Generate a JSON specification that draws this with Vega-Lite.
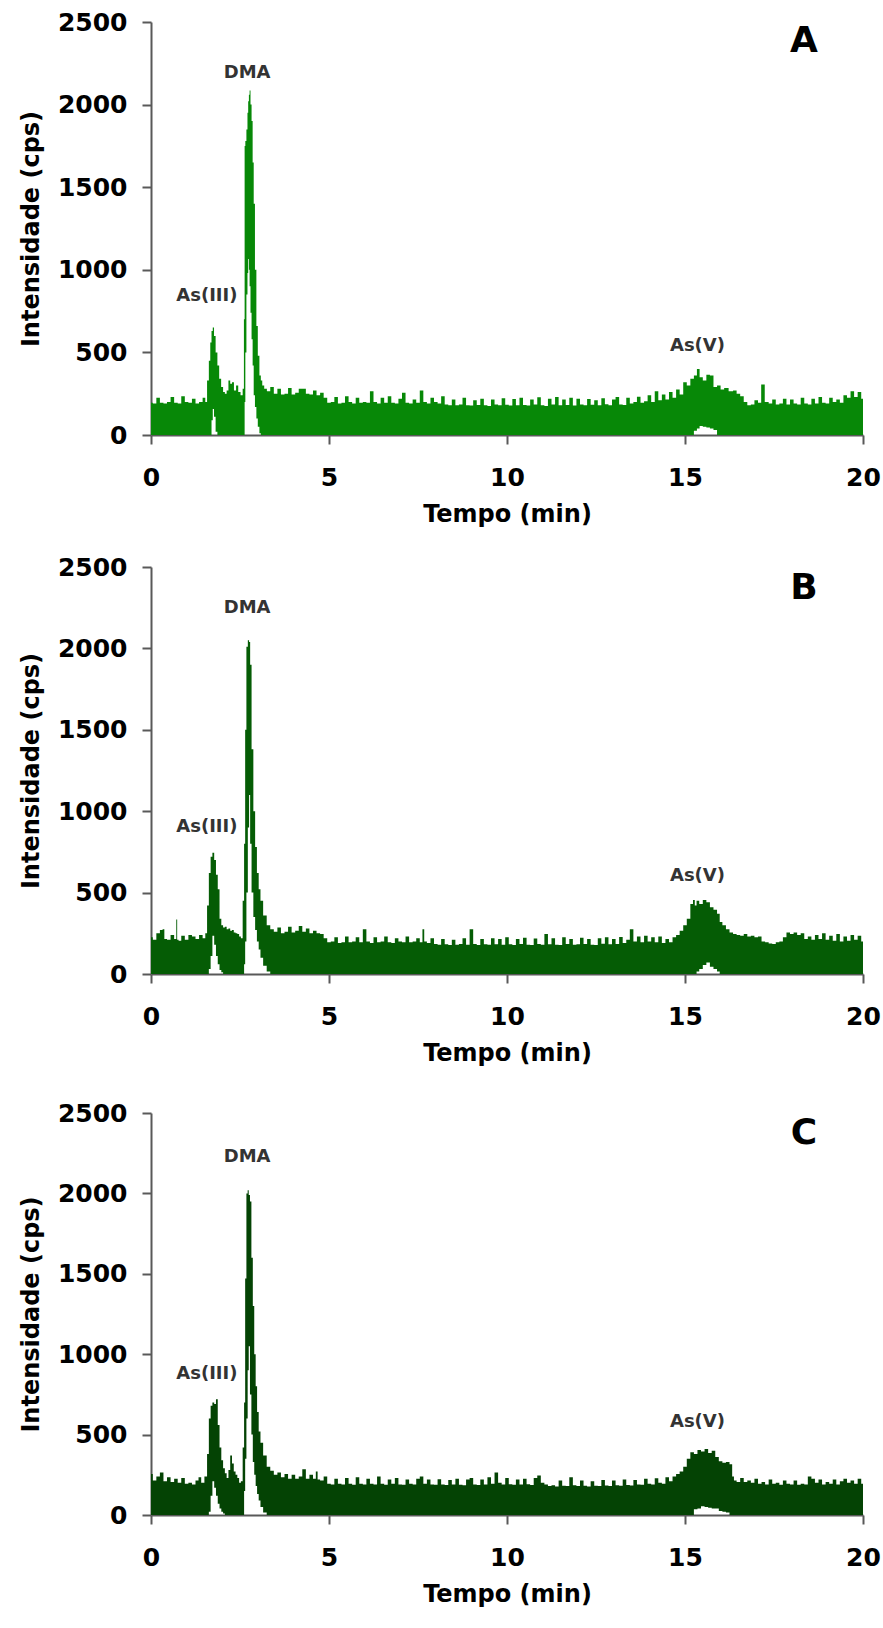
{
"$schema": "https://vega.github.io/schema/vega-lite/v6.json",
"background": "white",
"padding": {"top": 10, "left": 19, "right": 5, "bottom": 5},
"spacing": 132,
"bounds": "flush",
"datasets": {
"A": [
{"t":0,"h":195,"l":0},{"t":0.1,"h":190,"l":0},{"t":0.2,"h":225,"l":0},{"t":0.3,"h":195,"l":0},{"t":0.4,"h":190,"l":0},{"t":0.5,"h":200,"l":0},{"t":0.6,"h":230,"l":0},{"t":0.7,"h":195,"l":0},{"t":0.8,"h":190,"l":0},{"t":0.9,"h":235,"l":0},
{"t":1.0,"h":200,"l":0},{"t":1.1,"h":195,"l":0},{"t":1.2,"h":220,"l":0},{"t":1.3,"h":190,"l":0},{"t":1.4,"h":200,"l":0},{"t":1.5,"h":225,"l":0},{"t":1.55,"h":200,"l":0},{"t":1.6,"h":330,"l":0},{"t":1.65,"h":450,"l":0},{"t":1.68,"h":560,"l":0},
{"t":1.72,"h":630,"l":90},{"t":1.75,"h":650,"l":157},{"t":1.79,"h":600,"l":110},{"t":1.84,"h":500,"l":20},{"t":1.89,"h":420,"l":0},{"t":1.94,"h":340,"l":0},{"t":2.0,"h":290,"l":0},{"t":2.05,"h":260,"l":0},{"t":2.1,"h":250,"l":0},{"t":2.15,"h":270,"l":0},
{"t":2.2,"h":330,"l":0},{"t":2.25,"h":310,"l":0},{"t":2.3,"h":320,"l":0},{"t":2.36,"h":270,"l":0},{"t":2.42,"h":300,"l":0},{"t":2.48,"h":260,"l":0},{"t":2.55,"h":240,"l":0},{"t":2.6,"h":280,"l":0},{"t":2.62,"h":700,"l":0},{"t":2.64,"h":1750,"l":200},
{"t":2.66,"h":1780,"l":500},{"t":2.7,"h":1850,"l":850},{"t":2.72,"h":1950,"l":980},{"t":2.74,"h":2020,"l":1065},{"t":2.76,"h":2060,"l":1000},{"t":2.78,"h":2085,"l":900},{"t":2.81,"h":2000,"l":740},{"t":2.84,"h":1900,"l":580},{"t":2.87,"h":1650,"l":420},{"t":2.9,"h":1400,"l":240},
{"t":2.94,"h":1000,"l":170},{"t":2.98,"h":660,"l":100},{"t":3.02,"h":480,"l":50},{"t":3.07,"h":360,"l":10},{"t":3.1,"h":330,"l":0},{"t":3.15,"h":300,"l":0},{"t":3.21,"h":280,"l":0},{"t":3.3,"h":265,"l":0},{"t":3.4,"h":290,"l":0},{"t":3.5,"h":250,"l":0},
{"t":3.6,"h":280,"l":0},{"t":3.7,"h":245,"l":0},{"t":3.8,"h":250,"l":0},{"t":3.9,"h":285,"l":0},{"t":4.0,"h":245,"l":0},{"t":4.1,"h":255,"l":0},{"t":4.2,"h":280,"l":0},{"t":4.3,"h":280,"l":0},{"t":4.4,"h":250,"l":0},{"t":4.5,"h":245,"l":0},
{"t":4.6,"h":270,"l":0},{"t":4.7,"h":240,"l":0},{"t":4.8,"h":255,"l":0},{"t":4.9,"h":225,"l":0},{"t":5.0,"h":195,"l":0},{"t":5.1,"h":200,"l":0},{"t":5.2,"h":230,"l":0},{"t":5.3,"h":190,"l":0},{"t":5.4,"h":195,"l":0},{"t":5.5,"h":235,"l":0},
{"t":5.6,"h":200,"l":0},{"t":5.7,"h":190,"l":0},{"t":5.8,"h":225,"l":0},{"t":5.9,"h":195,"l":0},{"t":6.0,"h":200,"l":0},{"t":6.1,"h":195,"l":0},{"t":6.2,"h":265,"l":0},{"t":6.3,"h":200,"l":0},{"t":6.4,"h":190,"l":0},{"t":6.5,"h":225,"l":0},
{"t":6.6,"h":195,"l":0},{"t":6.7,"h":235,"l":0},{"t":6.8,"h":195,"l":0},{"t":6.9,"h":190,"l":0},{"t":7.0,"h":220,"l":0},{"t":7.1,"h":255,"l":0},{"t":7.2,"h":195,"l":0},{"t":7.3,"h":190,"l":0},{"t":7.4,"h":215,"l":0},{"t":7.5,"h":195,"l":0},
{"t":7.6,"h":270,"l":0},{"t":7.7,"h":200,"l":0},{"t":7.8,"h":190,"l":0},{"t":7.9,"h":225,"l":0},{"t":8.0,"h":200,"l":0},{"t":8.1,"h":190,"l":0},{"t":8.2,"h":235,"l":0},{"t":8.3,"h":185,"l":0},{"t":8.4,"h":180,"l":0},{"t":8.5,"h":215,"l":0},
{"t":8.6,"h":180,"l":0},{"t":8.7,"h":185,"l":0},{"t":8.8,"h":225,"l":0},{"t":8.9,"h":180,"l":0},{"t":9.0,"h":178,"l":0},{"t":9.1,"h":210,"l":0},{"t":9.2,"h":182,"l":0},{"t":9.3,"h":220,"l":0},{"t":9.4,"h":180,"l":0},{"t":9.5,"h":176,"l":0},
{"t":9.6,"h":215,"l":0},{"t":9.7,"h":185,"l":0},{"t":9.8,"h":180,"l":0},{"t":9.9,"h":222,"l":0},{"t":10.0,"h":183,"l":0},{"t":10.1,"h":178,"l":0},{"t":10.2,"h":218,"l":0},{"t":10.3,"h":180,"l":0},{"t":10.4,"h":225,"l":0},{"t":10.5,"h":182,"l":0},
{"t":10.6,"h":178,"l":0},{"t":10.7,"h":215,"l":0},{"t":10.8,"h":185,"l":0},{"t":10.9,"h":228,"l":0},{"t":11.0,"h":180,"l":0},{"t":11.1,"h":176,"l":0},{"t":11.2,"h":220,"l":0},{"t":11.3,"h":184,"l":0},{"t":11.4,"h":230,"l":0},{"t":11.5,"h":180,"l":0},
{"t":11.6,"h":215,"l":0},{"t":11.7,"h":182,"l":0},{"t":11.8,"h":225,"l":0},{"t":11.9,"h":178,"l":0},{"t":12.0,"h":220,"l":0},{"t":12.1,"h":185,"l":0},{"t":12.2,"h":180,"l":0},{"t":12.3,"h":218,"l":0},{"t":12.4,"h":183,"l":0},{"t":12.5,"h":210,"l":0},
{"t":12.6,"h":180,"l":0},{"t":12.7,"h":222,"l":0},{"t":12.8,"h":186,"l":0},{"t":12.9,"h":180,"l":0},{"t":13.0,"h":215,"l":0},{"t":13.1,"h":230,"l":0},{"t":13.2,"h":185,"l":0},{"t":13.3,"h":182,"l":0},{"t":13.4,"h":225,"l":0},{"t":13.5,"h":190,"l":0},
{"t":13.6,"h":200,"l":0},{"t":13.7,"h":232,"l":0},{"t":13.8,"h":195,"l":0},{"t":13.9,"h":205,"l":0},{"t":14.0,"h":240,"l":0},{"t":14.1,"h":200,"l":0},{"t":14.2,"h":265,"l":0},{"t":14.3,"h":210,"l":0},{"t":14.4,"h":245,"l":0},{"t":14.5,"h":215,"l":0},
{"t":14.6,"h":260,"l":0},{"t":14.7,"h":225,"l":0},{"t":14.8,"h":275,"l":0},{"t":14.9,"h":245,"l":0},{"t":15.0,"h":320,"l":0},{"t":15.1,"h":300,"l":0},{"t":15.2,"h":340,"l":0},{"t":15.3,"h":360,"l":25},{"t":15.37,"h":400,"l":40},{"t":15.45,"h":350,"l":55},
{"t":15.55,"h":330,"l":50},{"t":15.65,"h":365,"l":45},{"t":15.75,"h":360,"l":40},{"t":15.85,"h":290,"l":30},{"t":15.95,"h":300,"l":0},{"t":16.05,"h":275,"l":0},{"t":16.15,"h":285,"l":0},{"t":16.3,"h":265,"l":0},{"t":16.4,"h":270,"l":0},{"t":16.5,"h":250,"l":0},
{"t":16.6,"h":235,"l":0},{"t":16.7,"h":200,"l":0},{"t":16.8,"h":180,"l":0},{"t":16.9,"h":185,"l":0},{"t":17.0,"h":210,"l":0},{"t":17.1,"h":195,"l":0},{"t":17.18,"h":305,"l":0},{"t":17.3,"h":200,"l":0},{"t":17.4,"h":190,"l":0},{"t":17.5,"h":215,"l":0},
{"t":17.6,"h":185,"l":0},{"t":17.7,"h":190,"l":0},{"t":17.8,"h":220,"l":0},{"t":17.9,"h":185,"l":0},{"t":18.0,"h":215,"l":0},{"t":18.1,"h":190,"l":0},{"t":18.2,"h":185,"l":0},{"t":18.3,"h":225,"l":0},{"t":18.4,"h":190,"l":0},{"t":18.5,"h":185,"l":0},
{"t":18.6,"h":220,"l":0},{"t":18.7,"h":190,"l":0},{"t":18.8,"h":230,"l":0},{"t":18.9,"h":195,"l":0},{"t":19.0,"h":190,"l":0},{"t":19.1,"h":225,"l":0},{"t":19.2,"h":200,"l":0},{"t":19.3,"h":215,"l":0},{"t":19.4,"h":195,"l":0},{"t":19.5,"h":240,"l":0},
{"t":19.6,"h":225,"l":0},{"t":19.7,"h":265,"l":0},{"t":19.8,"h":230,"l":0},{"t":19.9,"h":260,"l":0},{"t":20.0,"h":220,"l":0}
],
"B": [
{"t":0,"h":225,"l":0},{"t":0.1,"h":210,"l":0},{"t":0.2,"h":250,"l":0},{"t":0.3,"h":270,"l":0},{"t":0.35,"h":275,"l":0},{"t":0.4,"h":215,"l":0},{"t":0.5,"h":210,"l":0},{"t":0.6,"h":240,"l":0},{"t":0.7,"h":215,"l":0},{"t":0.72,"h":335,"l":0},
{"t":0.75,"h":210,"l":0},{"t":0.8,"h":205,"l":0},{"t":0.9,"h":235,"l":0},{"t":1.0,"h":210,"l":0},{"t":1.1,"h":240,"l":0},{"t":1.2,"h":230,"l":0},{"t":1.3,"h":215,"l":0},{"t":1.4,"h":240,"l":0},{"t":1.5,"h":220,"l":0},{"t":1.55,"h":250,"l":0},
{"t":1.6,"h":420,"l":0},{"t":1.65,"h":620,"l":30},{"t":1.7,"h":720,"l":110},{"t":1.75,"h":745,"l":235},{"t":1.8,"h":700,"l":180},{"t":1.85,"h":610,"l":110},{"t":1.9,"h":520,"l":60},{"t":1.95,"h":340,"l":25},{"t":2.0,"h":300,"l":10},{"t":2.05,"h":285,"l":0},
{"t":2.1,"h":290,"l":0},{"t":2.15,"h":275,"l":0},{"t":2.2,"h":280,"l":0},{"t":2.25,"h":265,"l":0},{"t":2.3,"h":270,"l":0},{"t":2.35,"h":255,"l":0},{"t":2.4,"h":250,"l":0},{"t":2.45,"h":245,"l":0},{"t":2.5,"h":230,"l":0},{"t":2.55,"h":220,"l":0},
{"t":2.6,"h":450,"l":0},{"t":2.63,"h":800,"l":60},{"t":2.66,"h":1500,"l":200},{"t":2.7,"h":2010,"l":500},{"t":2.74,"h":2050,"l":900},{"t":2.77,"h":2040,"l":1100},{"t":2.8,"h":1900,"l":800},{"t":2.85,"h":1380,"l":500},{"t":2.9,"h":1000,"l":350},{"t":2.95,"h":780,"l":270},
{"t":3.0,"h":620,"l":200},{"t":3.05,"h":520,"l":150},{"t":3.1,"h":450,"l":100},{"t":3.2,"h":360,"l":50},{"t":3.3,"h":300,"l":15},{"t":3.4,"h":275,"l":0},{"t":3.5,"h":260,"l":0},{"t":3.6,"h":285,"l":0},{"t":3.7,"h":250,"l":0},{"t":3.8,"h":260,"l":0},
{"t":3.9,"h":290,"l":0},{"t":4.0,"h":255,"l":0},{"t":4.1,"h":265,"l":0},{"t":4.2,"h":295,"l":0},{"t":4.3,"h":260,"l":0},{"t":4.4,"h":280,"l":0},{"t":4.5,"h":250,"l":0},{"t":4.6,"h":265,"l":0},{"t":4.7,"h":250,"l":0},{"t":4.8,"h":245,"l":0},
{"t":4.9,"h":220,"l":0},{"t":5.0,"h":195,"l":0},{"t":5.1,"h":200,"l":0},{"t":5.2,"h":225,"l":0},{"t":5.3,"h":190,"l":0},{"t":5.4,"h":195,"l":0},{"t":5.5,"h":230,"l":0},{"t":5.6,"h":195,"l":0},{"t":5.7,"h":200,"l":0},{"t":5.8,"h":225,"l":0},
{"t":5.9,"h":195,"l":0},{"t":6.0,"h":275,"l":0},{"t":6.1,"h":200,"l":0},{"t":6.2,"h":190,"l":0},{"t":6.3,"h":225,"l":0},{"t":6.4,"h":195,"l":0},{"t":6.5,"h":200,"l":0},{"t":6.6,"h":230,"l":0},{"t":6.7,"h":195,"l":0},{"t":6.8,"h":190,"l":0},
{"t":6.9,"h":220,"l":0},{"t":7.0,"h":200,"l":0},{"t":7.1,"h":195,"l":0},{"t":7.2,"h":230,"l":0},{"t":7.3,"h":195,"l":0},{"t":7.4,"h":200,"l":0},{"t":7.5,"h":220,"l":0},{"t":7.6,"h":195,"l":0},{"t":7.65,"h":275,"l":0},{"t":7.7,"h":200,"l":0},
{"t":7.8,"h":190,"l":0},{"t":7.9,"h":220,"l":0},{"t":8.0,"h":185,"l":0},{"t":8.1,"h":180,"l":0},{"t":8.2,"h":215,"l":0},{"t":8.3,"h":182,"l":0},{"t":8.4,"h":178,"l":0},{"t":8.5,"h":210,"l":0},{"t":8.6,"h":180,"l":0},{"t":8.7,"h":185,"l":0},
{"t":8.8,"h":220,"l":0},{"t":8.9,"h":180,"l":0},{"t":9.0,"h":275,"l":0},{"t":9.1,"h":185,"l":0},{"t":9.2,"h":178,"l":0},{"t":9.3,"h":215,"l":0},{"t":9.4,"h":182,"l":0},{"t":9.5,"h":180,"l":0},{"t":9.6,"h":220,"l":0},{"t":9.7,"h":183,"l":0},
{"t":9.8,"h":215,"l":0},{"t":9.9,"h":180,"l":0},{"t":10.0,"h":225,"l":0},{"t":10.1,"h":182,"l":0},{"t":10.2,"h":178,"l":0},{"t":10.3,"h":215,"l":0},{"t":10.4,"h":184,"l":0},{"t":10.5,"h":222,"l":0},{"t":10.6,"h":180,"l":0},{"t":10.7,"h":178,"l":0},
{"t":10.8,"h":218,"l":0},{"t":10.9,"h":185,"l":0},{"t":11.0,"h":180,"l":0},{"t":11.1,"h":245,"l":0},{"t":11.2,"h":182,"l":0},{"t":11.3,"h":220,"l":0},{"t":11.4,"h":180,"l":0},{"t":11.5,"h":178,"l":0},{"t":11.6,"h":225,"l":0},{"t":11.7,"h":184,"l":0},
{"t":11.8,"h":215,"l":0},{"t":11.9,"h":180,"l":0},{"t":12.0,"h":182,"l":0},{"t":12.1,"h":222,"l":0},{"t":12.2,"h":185,"l":0},{"t":12.3,"h":215,"l":0},{"t":12.4,"h":180,"l":0},{"t":12.5,"h":178,"l":0},{"t":12.6,"h":220,"l":0},{"t":12.7,"h":186,"l":0},
{"t":12.8,"h":225,"l":0},{"t":12.9,"h":182,"l":0},{"t":13.0,"h":215,"l":0},{"t":13.1,"h":185,"l":0},{"t":13.2,"h":228,"l":0},{"t":13.3,"h":190,"l":0},{"t":13.4,"h":210,"l":0},{"t":13.5,"h":275,"l":0},{"t":13.6,"h":200,"l":0},{"t":13.7,"h":230,"l":0},
{"t":13.8,"h":195,"l":0},{"t":13.9,"h":235,"l":0},{"t":14.0,"h":200,"l":0},{"t":14.1,"h":225,"l":0},{"t":14.2,"h":195,"l":0},{"t":14.3,"h":230,"l":0},{"t":14.4,"h":190,"l":0},{"t":14.5,"h":215,"l":0},{"t":14.6,"h":195,"l":0},{"t":14.7,"h":225,"l":0},
{"t":14.8,"h":240,"l":0},{"t":14.9,"h":265,"l":0},{"t":15.0,"h":300,"l":0},{"t":15.1,"h":340,"l":0},{"t":15.2,"h":430,"l":0},{"t":15.25,"h":455,"l":0},{"t":15.3,"h":420,"l":0},{"t":15.35,"h":450,"l":15},{"t":15.45,"h":430,"l":30},{"t":15.55,"h":455,"l":55},
{"t":15.65,"h":440,"l":70},{"t":15.75,"h":410,"l":45},{"t":15.85,"h":395,"l":30},{"t":15.95,"h":370,"l":15},{"t":16.0,"h":320,"l":0},{"t":16.1,"h":300,"l":0},{"t":16.2,"h":275,"l":0},{"t":16.3,"h":255,"l":0},{"t":16.4,"h":245,"l":0},{"t":16.5,"h":240,"l":0},
{"t":16.6,"h":235,"l":0},{"t":16.7,"h":245,"l":0},{"t":16.8,"h":230,"l":0},{"t":16.9,"h":235,"l":0},{"t":17.0,"h":225,"l":0},{"t":17.1,"h":230,"l":0},{"t":17.2,"h":200,"l":0},{"t":17.3,"h":195,"l":0},{"t":17.4,"h":188,"l":0},{"t":17.5,"h":185,"l":0},
{"t":17.6,"h":195,"l":0},{"t":17.7,"h":200,"l":0},{"t":17.8,"h":225,"l":0},{"t":17.9,"h":255,"l":0},{"t":18.0,"h":245,"l":0},{"t":18.1,"h":255,"l":0},{"t":18.2,"h":240,"l":0},{"t":18.3,"h":250,"l":0},{"t":18.4,"h":215,"l":0},{"t":18.5,"h":230,"l":0},
{"t":18.6,"h":210,"l":0},{"t":18.7,"h":240,"l":0},{"t":18.8,"h":215,"l":0},{"t":18.9,"h":250,"l":0},{"t":19.0,"h":210,"l":0},{"t":19.1,"h":235,"l":0},{"t":19.2,"h":205,"l":0},{"t":19.3,"h":245,"l":0},{"t":19.4,"h":200,"l":0},{"t":19.5,"h":230,"l":0},
{"t":19.6,"h":205,"l":0},{"t":19.7,"h":240,"l":0},{"t":19.8,"h":210,"l":0},{"t":19.9,"h":235,"l":0},{"t":20.0,"h":200,"l":0}
],
"C": [
{"t":0,"h":255,"l":0},{"t":0.1,"h":215,"l":0},{"t":0.2,"h":240,"l":0},{"t":0.3,"h":265,"l":0},{"t":0.4,"h":210,"l":0},{"t":0.5,"h":235,"l":0},{"t":0.6,"h":205,"l":0},{"t":0.7,"h":225,"l":0},{"t":0.8,"h":200,"l":0},{"t":0.9,"h":230,"l":0},
{"t":1.0,"h":195,"l":0},{"t":1.1,"h":200,"l":0},{"t":1.2,"h":190,"l":0},{"t":1.3,"h":215,"l":0},{"t":1.37,"h":235,"l":0},{"t":1.45,"h":200,"l":0},{"t":1.55,"h":240,"l":0},{"t":1.6,"h":380,"l":0},{"t":1.65,"h":600,"l":20},{"t":1.7,"h":680,"l":120},
{"t":1.75,"h":700,"l":210},{"t":1.8,"h":690,"l":170},{"t":1.85,"h":720,"l":120},{"t":1.9,"h":560,"l":70},{"t":1.95,"h":420,"l":40},{"t":2.0,"h":340,"l":20},{"t":2.05,"h":290,"l":10},{"t":2.1,"h":260,"l":0},{"t":2.15,"h":230,"l":0},{"t":2.2,"h":280,"l":0},
{"t":2.25,"h":370,"l":0},{"t":2.3,"h":320,"l":0},{"t":2.35,"h":270,"l":0},{"t":2.4,"h":250,"l":0},{"t":2.45,"h":230,"l":0},{"t":2.5,"h":200,"l":0},{"t":2.55,"h":210,"l":0},{"t":2.6,"h":420,"l":0},{"t":2.63,"h":700,"l":150},{"t":2.66,"h":1470,"l":350},
{"t":2.7,"h":2000,"l":600},{"t":2.73,"h":2020,"l":900},{"t":2.76,"h":1990,"l":1050},{"t":2.8,"h":1950,"l":750},{"t":2.84,"h":1600,"l":500},{"t":2.88,"h":1300,"l":330},{"t":2.92,"h":1000,"l":250},{"t":2.96,"h":800,"l":180},{"t":3.0,"h":640,"l":130},{"t":3.05,"h":520,"l":90},
{"t":3.1,"h":450,"l":50},{"t":3.2,"h":370,"l":15},{"t":3.3,"h":300,"l":0},{"t":3.4,"h":275,"l":0},{"t":3.5,"h":250,"l":0},{"t":3.6,"h":265,"l":0},{"t":3.7,"h":235,"l":0},{"t":3.8,"h":255,"l":0},{"t":3.9,"h":225,"l":0},{"t":4.0,"h":250,"l":0},
{"t":4.1,"h":225,"l":0},{"t":4.2,"h":240,"l":0},{"t":4.3,"h":285,"l":0},{"t":4.4,"h":225,"l":0},{"t":4.5,"h":250,"l":0},{"t":4.6,"h":225,"l":0},{"t":4.66,"h":270,"l":0},{"t":4.7,"h":220,"l":0},{"t":4.8,"h":215,"l":0},{"t":4.9,"h":240,"l":0},
{"t":5.0,"h":195,"l":0},{"t":5.1,"h":190,"l":0},{"t":5.2,"h":225,"l":0},{"t":5.3,"h":195,"l":0},{"t":5.4,"h":190,"l":0},{"t":5.5,"h":230,"l":0},{"t":5.6,"h":195,"l":0},{"t":5.7,"h":188,"l":0},{"t":5.8,"h":235,"l":0},{"t":5.9,"h":195,"l":0},
{"t":6.0,"h":190,"l":0},{"t":6.1,"h":225,"l":0},{"t":6.2,"h":195,"l":0},{"t":6.3,"h":190,"l":0},{"t":6.4,"h":240,"l":0},{"t":6.5,"h":195,"l":0},{"t":6.6,"h":188,"l":0},{"t":6.7,"h":220,"l":0},{"t":6.8,"h":195,"l":0},{"t":6.9,"h":230,"l":0},
{"t":7.0,"h":190,"l":0},{"t":7.1,"h":188,"l":0},{"t":7.2,"h":220,"l":0},{"t":7.3,"h":195,"l":0},{"t":7.4,"h":190,"l":0},{"t":7.5,"h":225,"l":0},{"t":7.6,"h":240,"l":0},{"t":7.7,"h":195,"l":0},{"t":7.8,"h":220,"l":0},{"t":7.9,"h":190,"l":0},
{"t":8.0,"h":188,"l":0},{"t":8.1,"h":222,"l":0},{"t":8.2,"h":190,"l":0},{"t":8.3,"h":186,"l":0},{"t":8.4,"h":218,"l":0},{"t":8.5,"h":190,"l":0},{"t":8.6,"h":225,"l":0},{"t":8.7,"h":188,"l":0},{"t":8.8,"h":185,"l":0},{"t":8.9,"h":220,"l":0},
{"t":9.0,"h":230,"l":0},{"t":9.1,"h":190,"l":0},{"t":9.2,"h":186,"l":0},{"t":9.3,"h":220,"l":0},{"t":9.4,"h":190,"l":0},{"t":9.5,"h":235,"l":0},{"t":9.6,"h":195,"l":0},{"t":9.7,"h":265,"l":0},{"t":9.8,"h":200,"l":0},{"t":9.9,"h":190,"l":0},
{"t":10.0,"h":230,"l":0},{"t":10.1,"h":192,"l":0},{"t":10.2,"h":188,"l":0},{"t":10.3,"h":220,"l":0},{"t":10.4,"h":190,"l":0},{"t":10.5,"h":225,"l":0},{"t":10.6,"h":192,"l":0},{"t":10.7,"h":186,"l":0},{"t":10.8,"h":230,"l":0},{"t":10.9,"h":245,"l":0},
{"t":11.0,"h":200,"l":0},{"t":11.1,"h":190,"l":0},{"t":11.2,"h":180,"l":0},{"t":11.3,"h":185,"l":0},{"t":11.4,"h":178,"l":0},{"t":11.5,"h":215,"l":0},{"t":11.6,"h":182,"l":0},{"t":11.7,"h":180,"l":0},{"t":11.8,"h":235,"l":0},{"t":11.9,"h":185,"l":0},
{"t":12.0,"h":180,"l":0},{"t":12.1,"h":215,"l":0},{"t":12.2,"h":182,"l":0},{"t":12.3,"h":178,"l":0},{"t":12.4,"h":210,"l":0},{"t":12.5,"h":182,"l":0},{"t":12.6,"h":180,"l":0},{"t":12.7,"h":218,"l":0},{"t":12.8,"h":184,"l":0},{"t":12.9,"h":180,"l":0},
{"t":13.0,"h":215,"l":0},{"t":13.1,"h":185,"l":0},{"t":13.2,"h":182,"l":0},{"t":13.3,"h":220,"l":0},{"t":13.4,"h":186,"l":0},{"t":13.5,"h":184,"l":0},{"t":13.6,"h":218,"l":0},{"t":13.7,"h":190,"l":0},{"t":13.8,"h":188,"l":0},{"t":13.9,"h":225,"l":0},
{"t":14.0,"h":195,"l":0},{"t":14.1,"h":190,"l":0},{"t":14.2,"h":228,"l":0},{"t":14.3,"h":200,"l":0},{"t":14.4,"h":195,"l":0},{"t":14.5,"h":235,"l":0},{"t":14.6,"h":210,"l":0},{"t":14.7,"h":240,"l":0},{"t":14.8,"h":255,"l":0},{"t":14.9,"h":270,"l":0},
{"t":15.0,"h":300,"l":0},{"t":15.1,"h":350,"l":0},{"t":15.2,"h":390,"l":0},{"t":15.3,"h":380,"l":35},{"t":15.4,"h":405,"l":40},{"t":15.5,"h":395,"l":55},{"t":15.6,"h":410,"l":50},{"t":15.7,"h":385,"l":45},{"t":15.8,"h":400,"l":40},{"t":15.9,"h":360,"l":40},
{"t":16.0,"h":335,"l":25},{"t":16.1,"h":325,"l":20},{"t":16.2,"h":330,"l":15},{"t":16.3,"h":315,"l":0},{"t":16.35,"h":240,"l":0},{"t":16.4,"h":215,"l":0},{"t":16.5,"h":205,"l":0},{"t":16.6,"h":230,"l":0},{"t":16.7,"h":205,"l":0},{"t":16.8,"h":215,"l":0},
{"t":16.9,"h":200,"l":0},{"t":17.0,"h":225,"l":0},{"t":17.1,"h":195,"l":0},{"t":17.2,"h":205,"l":0},{"t":17.3,"h":190,"l":0},{"t":17.4,"h":220,"l":0},{"t":17.5,"h":195,"l":0},{"t":17.6,"h":200,"l":0},{"t":17.7,"h":188,"l":0},{"t":17.8,"h":215,"l":0},
{"t":17.9,"h":195,"l":0},{"t":18.0,"h":190,"l":0},{"t":18.1,"h":215,"l":0},{"t":18.2,"h":188,"l":0},{"t":18.3,"h":195,"l":0},{"t":18.4,"h":190,"l":0},{"t":18.5,"h":240,"l":0},{"t":18.6,"h":225,"l":0},{"t":18.7,"h":200,"l":0},{"t":18.8,"h":220,"l":0},
{"t":18.9,"h":190,"l":0},{"t":19.0,"h":205,"l":0},{"t":19.1,"h":195,"l":0},{"t":19.2,"h":220,"l":0},{"t":19.3,"h":190,"l":0},{"t":19.4,"h":210,"l":0},{"t":19.5,"h":225,"l":0},{"t":19.6,"h":200,"l":0},{"t":19.7,"h":215,"l":0},{"t":19.8,"h":195,"l":0},
{"t":19.9,"h":225,"l":0},{"t":20.0,"h":195,"l":0}
],
"ann": [
{"p":"A","k":"peak","s":"DMA","t":2.7,"v":2191},
{"p":"A","k":"peak","s":"As(III)","t":1.57,"v":844},
{"p":"A","k":"peak","s":"As(V)","t":15.35,"v":536},
{"p":"A","k":"panel","s":"A","t":18.34,"v":2388},
{"p":"B","k":"peak","s":"DMA","t":2.7,"v":2251},
{"p":"B","k":"peak","s":"As(III)","t":1.57,"v":904},
{"p":"B","k":"peak","s":"As(V)","t":15.35,"v":601},
{"p":"B","k":"panel","s":"B","t":18.34,"v":2370},
{"p":"C","k":"peak","s":"DMA","t":2.7,"v":2228},
{"p":"C","k":"peak","s":"As(III)","t":1.57,"v":879},
{"p":"C","k":"peak","s":"As(V)","t":15.35,"v":580},
{"p":"C","k":"panel","s":"C","t":18.34,"v":2373}
]
},
"vconcat": [
{
"width": 712, "height": 413,
"layer": [
{"data": {"name": "A"}, "mark": {"type": "area", "color": "#078807", "interpolate": "step"},
 "encoding": {
  "x": {"field": "t", "type": "quantitative", "scale": {"domain": [0, 20], "nice": false}, "axis": {"values": [0,5,10,15,20], "format": "d", "title": "Tempo (min)", "labelFlush": false, "labelPadding": 21, "titlePadding": 12}},
  "y": {"field": "h", "type": "quantitative", "scale": {"domain": [0, 2500], "nice": false}, "axis": {"values": [0,500,1000,1500,2000,2500], "format": "d", "title": "Intensidade (cps)", "labelPadding": 15, "titlePadding": 14}},
  "y2": {"field": "l"}}},
{"data": {"name": "ann"}, "transform": [{"filter": "datum.p == 'A' && datum.k == 'peak'"}], "mark": {"type": "text", "font": "DejaVu Sans", "fontWeight": "bold", "fontSize": 18, "color": "#333333", "align": "center", "baseline": "middle"},
 "encoding": {"x": {"field": "t", "type": "quantitative"}, "y": {"field": "v", "type": "quantitative"}, "text": {"field": "s"}}},
{"data": {"name": "ann"}, "transform": [{"filter": "datum.p == 'A' && datum.k == 'panel'"}], "mark": {"type": "text", "font": "DejaVu Sans", "fontWeight": "bold", "fontSize": 36, "color": "#000000", "align": "center", "baseline": "middle"},
 "encoding": {"x": {"field": "t", "type": "quantitative"}, "y": {"field": "v", "type": "quantitative"}, "text": {"field": "s"}}}
]
},
{
"spacing": 139,
"bounds": "flush",
"vconcat": [
{
"width": 712, "height": 407,
"layer": [
{"data": {"name": "B"}, "mark": {"type": "area", "color": "#055c05", "interpolate": "step"},
 "encoding": {
  "x": {"field": "t", "type": "quantitative", "scale": {"domain": [0, 20], "nice": false}, "axis": {"values": [0,5,10,15,20], "format": "d", "title": "Tempo (min)", "labelFlush": false, "labelPadding": 21, "titlePadding": 12}},
  "y": {"field": "h", "type": "quantitative", "scale": {"domain": [0, 2500], "nice": false}, "axis": {"values": [0,500,1000,1500,2000,2500], "format": "d", "title": "Intensidade (cps)", "labelPadding": 15, "titlePadding": 14}},
  "y2": {"field": "l"}}},
{"data": {"name": "ann"}, "transform": [{"filter": "datum.p == 'B' && datum.k == 'peak'"}], "mark": {"type": "text", "font": "DejaVu Sans", "fontWeight": "bold", "fontSize": 18, "color": "#333333", "align": "center", "baseline": "middle"},
 "encoding": {"x": {"field": "t", "type": "quantitative"}, "y": {"field": "v", "type": "quantitative"}, "text": {"field": "s"}}},
{"data": {"name": "ann"}, "transform": [{"filter": "datum.p == 'B' && datum.k == 'panel'"}], "mark": {"type": "text", "font": "DejaVu Sans", "fontWeight": "bold", "fontSize": 36, "color": "#000000", "align": "center", "baseline": "middle"},
 "encoding": {"x": {"field": "t", "type": "quantitative"}, "y": {"field": "v", "type": "quantitative"}, "text": {"field": "s"}}}
]
},
{
"width": 712, "height": 402,
"layer": [
{"data": {"name": "C"}, "mark": {"type": "area", "color": "#044304", "interpolate": "step"},
 "encoding": {
  "x": {"field": "t", "type": "quantitative", "scale": {"domain": [0, 20], "nice": false}, "axis": {"values": [0,5,10,15,20], "format": "d", "title": "Tempo (min)", "labelFlush": false, "labelPadding": 21, "titlePadding": 12}},
  "y": {"field": "h", "type": "quantitative", "scale": {"domain": [0, 2500], "nice": false}, "axis": {"values": [0,500,1000,1500,2000,2500], "format": "d", "title": "Intensidade (cps)", "labelPadding": 15, "titlePadding": 14}},
  "y2": {"field": "l"}}},
{"data": {"name": "ann"}, "transform": [{"filter": "datum.p == 'C' && datum.k == 'peak'"}], "mark": {"type": "text", "font": "DejaVu Sans", "fontWeight": "bold", "fontSize": 18, "color": "#333333", "align": "center", "baseline": "middle"},
 "encoding": {"x": {"field": "t", "type": "quantitative"}, "y": {"field": "v", "type": "quantitative"}, "text": {"field": "s"}}},
{"data": {"name": "ann"}, "transform": [{"filter": "datum.p == 'C' && datum.k == 'panel'"}], "mark": {"type": "text", "font": "DejaVu Sans", "fontWeight": "bold", "fontSize": 36, "color": "#000000", "align": "center", "baseline": "middle"},
 "encoding": {"x": {"field": "t", "type": "quantitative"}, "y": {"field": "v", "type": "quantitative"}, "text": {"field": "s"}}}
]
}
]
}
],
"config": {
"view": {"stroke": null},
"axis": {"grid": false, "labelFont": "DejaVu Sans", "labelFontWeight": "bold", "labelFontSize": 25, "labelColor": "#000000", "titleFont": "DejaVu Sans", "titleFontWeight": "bold", "titleFontSize": 24, "titleColor": "#000000", "domainColor": "#595959", "domainWidth": 2, "tickColor": "#595959", "tickWidth": 2, "tickSize": 9}
}
}
